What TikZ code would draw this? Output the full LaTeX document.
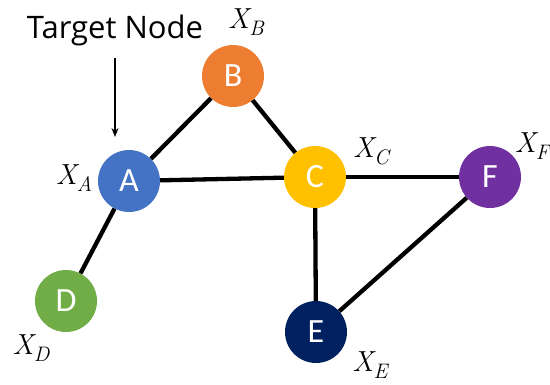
\documentclass[tikz,border=0pt]{standalone}
\usepackage{fontspec}
\setsansfont{Carlito}
\newfontfamily\tgtfont{Open Sans}
\newfontfamily\featfont{Latin Modern Roman}
\usepackage{tikz}
\usepackage{xcolor}
\usetikzlibrary{positioning, arrows.meta}

\definecolor{nodeA}{HTML}{4472C4}
\definecolor{nodeB}{HTML}{ED7D31}
\definecolor{nodeC}{HTML}{FFC000}
\definecolor{nodeD}{HTML}{70AD47}
\definecolor{nodeE}{HTML}{002060}
\definecolor{nodeF}{HTML}{7030A0}

% feature label X with subscript, set as italic text
\newcommand{\featlbl}[1]{{\featfont\fontsize{29}{32}\selectfont\itshape X}\raisebox{-7pt}{\featfont\fontsize{21}{23}\selectfont\itshape #1}}

\begin{document}
\begin{tikzpicture}[
            x=1pt, y=-1pt,
            >={Stealth[length=9pt, width=7pt]},
            vertex/.style={circle, minimum size=62pt, inner sep=0pt, text=white,
                    font=\fontsize{34}{38}\selectfont\sffamily},
            featnode/.style={inner sep=0pt},
            edge/.style={line width=4.3pt, black},
            ]
            \useasboundingbox (0,0) rectangle (550,384);

            \node[vertex, fill=nodeA] (a) at (129,181) {A};
            \node[vertex, fill=nodeB] (b) at (233,76) {B};
            \node[vertex, fill=nodeC] (c) at (315,177) {C};
            \node[vertex, fill=nodeD] (d) at (66,301) {D};
            \node[vertex, fill=nodeE] (e) at (316,332) {E};
            \node[vertex, fill=nodeF] (f) at (490,177) {F};

            \draw[edge] (a) -- (b);
            \draw[edge] (a) -- (c);
            \draw[edge] (a) -- (d);
            \draw[edge] (b) -- (c);
            \draw[edge] (c) -- (f);
            \draw[edge] (c) -- (e);
            \draw[edge] (e) -- (f);

            \node[featnode] (xa) at (74,178) {\featlbl{A}};
            \node[featnode] (xb) at (246,22) {\featlbl{B}};
            \node[featnode] (xc) at (371,151) {\featlbl{C}};
            \node[featnode] (xd) at (31,348) {\featlbl{D}};
            \node[featnode] (xe) at (370,365) {\featlbl{E}};
            \node[featnode] (xf) at (532,146) {\featlbl{F}};

            \node[font=\fontsize{31}{35}\selectfont\tgtfont, inner sep=0pt] (target) at (115,30) {Target Node};
            \coordinate (tip) at (115,137);
            \draw[->, line width=1.2pt] (target.south) ++(0,12) -- (tip);

        \end{tikzpicture}
\end{document}
